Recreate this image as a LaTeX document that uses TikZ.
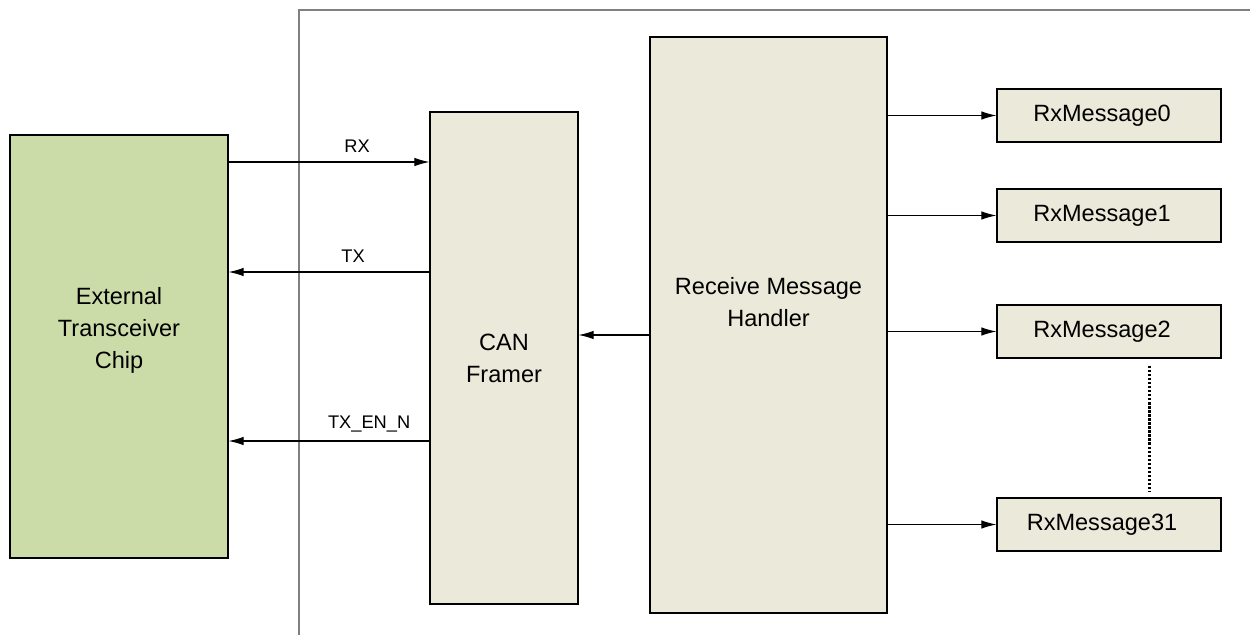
\documentclass[tikz,border=0pt]{standalone}
\usepackage{fontspec}
\setmainfont{Liberation Sans}
\usetikzlibrary{arrows.meta}
\definecolor{chipgreen}{RGB}{204,220,168}
\definecolor{blockbeige}{RGB}{234,233,218}
\newcommand{\boxfont}{\fontsize{13.4}{18.2}\selectfont}
\newcommand{\sigfont}{\fontsize{10.4}{12}\selectfont}
\tikzset{
  block/.style={draw, line width=0.75pt, fill=blockbeige, inner sep=0pt, font=\boxfont, align=center},
  msgbox/.style={block, minimum width=4.48cm, minimum height=1.06cm, execute at end node={\hspace*{0.28cm}}},
  sig/.style={line width=0.6pt, -{Latex[length=8.5pt,width=4.8pt]}},
  siglabel/.style={font=\sigfont, inner sep=2pt, yshift=3pt}
}

\begin{document}
\begin{tikzpicture}[x=0.02cm, y=-0.02cm]
    \useasboundingbox (0,0) rectangle (1250,635);
    % frame of the design
    \draw[gray, line width=0.6pt] (299,635) -- (299,10) -- (1250,10);

    \node[block, fill=chipgreen, minimum width=4.36cm, minimum height=8.46cm,
          label={[font=\boxfont, align=center, yshift=9pt]center:External\\Transceiver\\Chip}] (chip) at (119,346.5) {};
    \node[block, minimum width=2.96cm, minimum height=9.84cm] (framer) at (504,358) {CAN\\Framer};
    \node[block, minimum width=4.74cm, minimum height=11.52cm,
          label={[font=\boxfont, align=center, yshift=13pt]center:Receive Message\\Handler}] (handler) at (768.5,325) {};

    \node[msgbox] (msg0) at (1109,115.5) {RxMessage0};
    \node[msgbox] (msg1) at (1109,215.5) {RxMessage1};
    \node[msgbox] (msg2) at (1109,331.5) {RxMessage2};
    \node[msgbox] (msg31) at (1109,524.5) {RxMessage31};

    \coordinate (rx) at (0,162);
    \coordinate (tx) at (0,272);
    \coordinate (txen) at (0,441);
    \coordinate (ctl) at (0,335);

    \draw[sig] (chip.east |- rx) -- node[siglabel, above, pos=0.64] {RX} (framer.west |- rx);
    \draw[sig] (framer.west |- tx) -- node[siglabel, above, pos=0.38] {TX} (chip.east |- tx);
    \draw[sig] (framer.west |- txen) -- node[siglabel, above, pos=0.30] {TX\_EN\_N} (chip.east |- txen);
    \draw[sig] (handler.west |- ctl) -- (framer.east |- ctl);

    \foreach \m in {msg0,msg1,msg2,msg31}
        \draw[sig] (handler.east |- \m) -- (\m);

    \draw[line width=1.7pt, dash pattern=on 1.4pt off 0.9pt, shorten <=4pt, shorten >=3pt]
        ([xshift=0.8cm]msg2.south) -- ([xshift=0.8cm]msg31.north);
\end{tikzpicture}
\end{document}
